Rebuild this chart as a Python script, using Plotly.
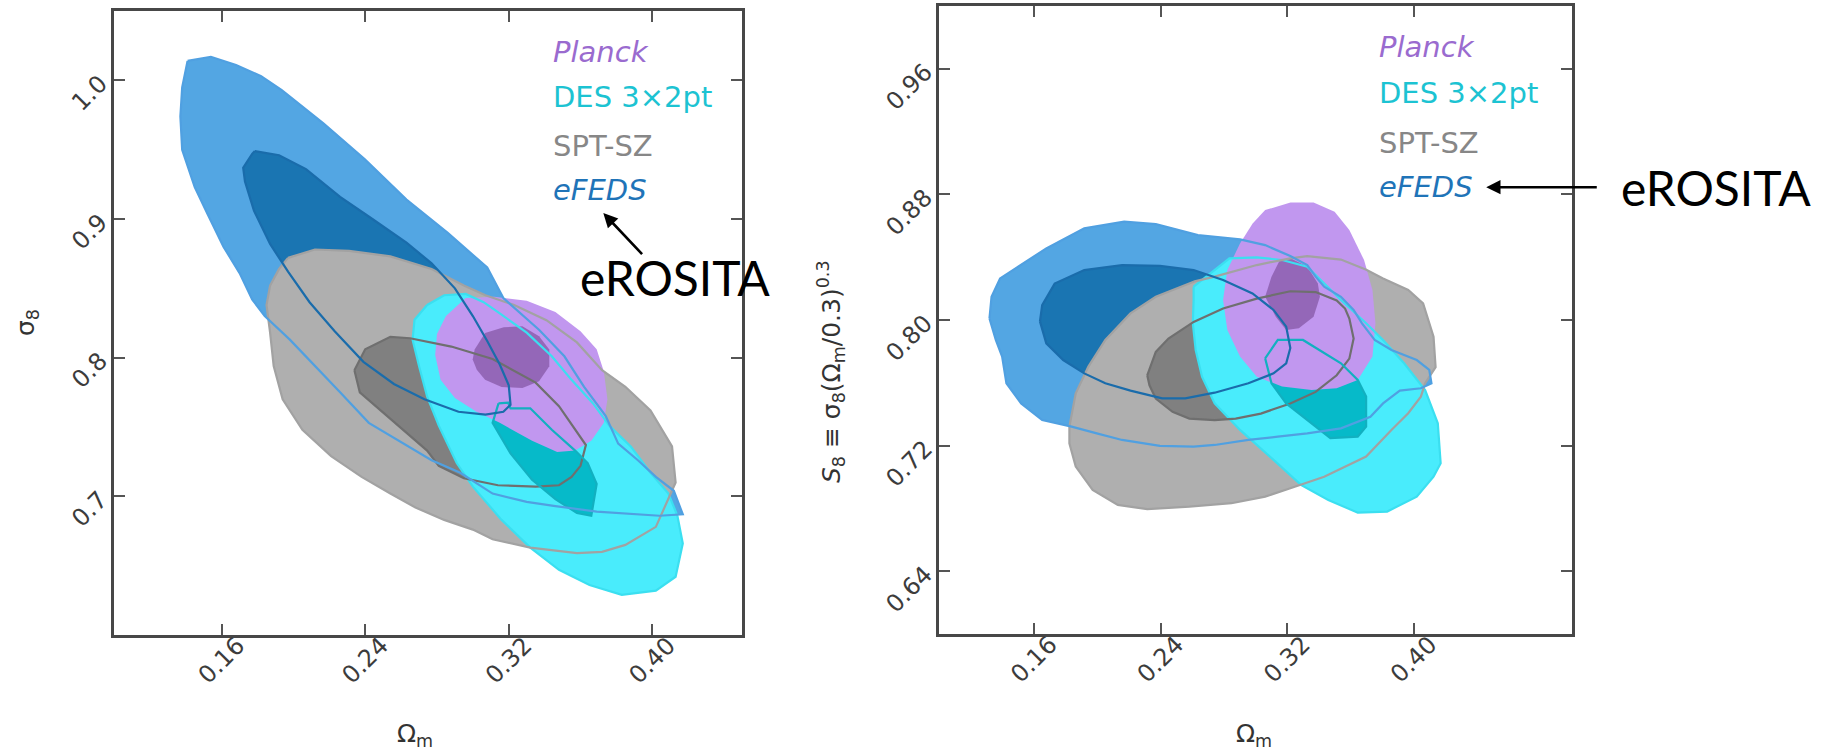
import plotly.graph_objects as go

# ---------------- tick definitions ----------------
X_TICKS = [0.16, 0.24, 0.32, 0.40]
X_TICK_TEXT = ["0.16", "0.24", "0.32", "0.40"]
L_Y_TICKS = [0.7, 0.8, 0.9, 1.0]
L_Y_TICK_TEXT = ["0.7", "0.8", "0.9", "1.0"]
R_Y_TICKS = [0.64, 0.72, 0.80, 0.88, 0.96]
R_Y_TICK_TEXT = ["0.64", "0.72", "0.80", "0.88", "0.96"]

# ---------------- left panel: (Omega_m, sigma_8) ----------------
L_EFEDS_OUT_X = [0.141, 0.154, 0.168, 0.182, 0.1935, 0.2167, 0.2398, 0.263, 0.286, 0.308, 0.317, 0.337, 0.351, 0.362,
                 0.374, 0.381, 0.392, 0.402, 0.412, 0.417, 0.404, 0.369, 0.346, 0.330, 0.311, 0.293, 0.277, 0.258,
                 0.242, 0.226, 0.212, 0.198, 0.184, 0.177, 0.170, 0.161, 0.152, 0.145, 0.138, 0.137, 0.138]
L_EFEDS_OUT_Y = [1.014, 1.017, 1.011, 1.003, 0.993, 0.969, 0.943, 0.914, 0.890, 0.865, 0.843, 0.820, 0.801, 0.779,
                 0.758, 0.738, 0.726, 0.714, 0.704, 0.687, 0.686, 0.689, 0.693, 0.696, 0.702, 0.717, 0.726, 0.741,
                 0.753, 0.775, 0.794, 0.813, 0.830, 0.842, 0.861, 0.880, 0.904, 0.923, 0.950, 0.974, 0.995]
L_EFEDS_IN_X = [0.1785, 0.192, 0.207, 0.226, 0.244, 0.263, 0.277, 0.290, 0.300, 0.308, 0.315, 0.320, 0.321, 0.317,
                0.307, 0.292, 0.273, 0.256, 0.239, 0.223, 0.209, 0.197, 0.187, 0.178, 0.173, 0.172, 0.177]
L_EFEDS_IN_Y = [0.949, 0.946, 0.936, 0.916, 0.900, 0.883, 0.868, 0.850, 0.830, 0.812, 0.795, 0.780, 0.766, 0.761,
                0.759, 0.761, 0.770, 0.781, 0.797, 0.819, 0.840, 0.862, 0.882, 0.906, 0.927, 0.937, 0.947]
L_SPT_OUT_X = [0.197, 0.212, 0.231, 0.254, 0.277, 0.295, 0.307, 0.323, 0.341, 0.358, 0.372, 0.385, 0.399, 0.411,
               0.413, 0.409, 0.402, 0.385, 0.372, 0.358, 0.332, 0.311, 0.300, 0.284, 0.268, 0.254, 0.238, 0.221,
               0.205, 0.194, 0.189, 0.187, 0.185, 0.187, 0.192]
L_SPT_OUT_Y = [0.872, 0.878, 0.877, 0.873, 0.864, 0.852, 0.845, 0.838, 0.827, 0.811, 0.791, 0.779, 0.762, 0.736,
               0.710, 0.698, 0.678, 0.665, 0.660, 0.659, 0.663, 0.669, 0.676, 0.683, 0.692, 0.702, 0.714, 0.729,
               0.748, 0.770, 0.794, 0.818, 0.838, 0.852, 0.864]
L_SPT_IN_X = [0.234, 0.240, 0.254, 0.265, 0.288, 0.311, 0.335, 0.348, 0.363, 0.360, 0.355, 0.348, 0.335, 0.314,
              0.295, 0.281, 0.2745, 0.261, 0.249, 0.237]
L_SPT_IN_Y = [0.791, 0.806, 0.815, 0.814, 0.808, 0.799, 0.782, 0.765, 0.737, 0.722, 0.714, 0.708, 0.707, 0.708,
              0.713, 0.722, 0.733, 0.748, 0.762, 0.775]
L_DES_OUT_X = [0.2745, 0.284, 0.296, 0.306, 0.316, 0.330, 0.344, 0.355, 0.367, 0.376, 0.388, 0.399, 0.409, 0.414,
               0.417, 0.413, 0.402, 0.383, 0.365, 0.348, 0.332, 0.316, 0.300, 0.291, 0.281, 0.2745, 0.270, 0.2664,
               0.2675]
L_DES_OUT_Y = [0.838, 0.845, 0.846, 0.840, 0.831, 0.818, 0.801, 0.784, 0.767, 0.751, 0.736, 0.717, 0.702, 0.686,
               0.666, 0.642, 0.632, 0.629, 0.636, 0.647, 0.663, 0.683, 0.707, 0.724, 0.751, 0.772, 0.794, 0.813,
               0.8274]
L_DES_IN_X = [0.3143, 0.3197, 0.321, 0.332, 0.344, 0.357, 0.364, 0.369, 0.366, 0.358, 0.346, 0.333, 0.321, 0.311]
L_DES_IN_Y = [0.767, 0.7675, 0.7635, 0.7635, 0.748, 0.733, 0.724, 0.709, 0.686, 0.688, 0.698, 0.712, 0.731, 0.753]
L_PLANCK_OUT_X = [0.296, 0.312, 0.330, 0.346, 0.360, 0.369, 0.373, 0.375, 0.373, 0.366, 0.357, 0.347, 0.333, 0.315,
                  0.302, 0.290, 0.282, 0.279, 0.280, 0.285]
L_PLANCK_OUT_Y = [0.843, 0.844, 0.841, 0.833, 0.819, 0.806, 0.790, 0.770, 0.753, 0.740, 0.733, 0.732, 0.740, 0.753,
                  0.761, 0.771, 0.784, 0.802, 0.817, 0.830]
L_PLANCK_IN_X = [0.301, 0.3068, 0.3172, 0.3276, 0.3369, 0.3426, 0.3426, 0.3369, 0.3276, 0.316, 0.3068, 0.3022, 0.2999]
L_PLANCK_IN_Y = [0.8058, 0.8178, 0.822, 0.8226, 0.8154, 0.8058, 0.7938, 0.783, 0.7781, 0.7788, 0.7841, 0.7913, 0.7986]

# ---------------- right panel: (Omega_m, S_8) ----------------
R_EFEDS_OUT_X = [0.1319, 0.1332, 0.1386, 0.1519, 0.1678, 0.1918, 0.217, 0.237, 0.2636, 0.2902, 0.3061, 0.322, 0.3327,
                 0.338, 0.3434, 0.354, 0.362, 0.3673, 0.3753, 0.3859, 0.4019, 0.4098, 0.4112, 0.4045, 0.3912, 0.3806,
                 0.3726, 0.354, 0.3327, 0.3141, 0.2955, 0.2742, 0.2609, 0.2396, 0.2157, 0.1997, 0.1838, 0.1652,
                 0.1519, 0.1426, 0.1399, 0.1359]
R_EFEDS_OUT_Y = [0.8010, 0.8148, 0.8265, 0.835, 0.8456, 0.8584, 0.8626, 0.8611, 0.8541, 0.8513, 0.8477, 0.8407, 0.835,
                 0.8276, 0.8212, 0.8148, 0.8064, 0.7979, 0.7873, 0.7809, 0.7745, 0.7682, 0.7597, 0.7565, 0.755, 0.7469,
                 0.7384, 0.731, 0.7278, 0.7257, 0.7236, 0.7204, 0.7194, 0.7198, 0.7236, 0.7278, 0.7321, 0.7363,
                 0.7469, 0.7597, 0.7767, 0.7873]
R_EFEDS_IN_X = [0.1638, 0.1652, 0.1731, 0.1918, 0.2157, 0.2396, 0.2609, 0.2795, 0.2981, 0.3114, 0.3194, 0.322, 0.3194,
                0.3114, 0.2955, 0.2742, 0.2556, 0.2410, 0.221, 0.2051, 0.1918, 0.1785, 0.1678]
R_EFEDS_IN_Y = [0.7991, 0.8095, 0.8232, 0.8318, 0.8349, 0.8345, 0.8318, 0.8255, 0.8169, 0.8064, 0.7958, 0.7822, 0.7724,
                0.766, 0.7597, 0.7537, 0.7501, 0.7501, 0.755, 0.7597, 0.766, 0.7745, 0.7851]
R_SPT_OUT_X = [0.2609, 0.2742, 0.3008, 0.322, 0.3327, 0.354, 0.370, 0.3806, 0.3965, 0.4059, 0.4125, 0.4138, 0.4072,
               0.4045, 0.3965, 0.3859, 0.3699, 0.3434, 0.322, 0.3061, 0.2848, 0.2582, 0.2316, 0.213, 0.1971, 0.1864,
               0.1824, 0.1824, 0.1864, 0.1944, 0.2051, 0.221, 0.237]
R_SPT_OUT_Y = [0.8244, 0.8276, 0.835, 0.8393, 0.8407, 0.8385, 0.832, 0.8265, 0.8191, 0.8106, 0.7894, 0.770, 0.7597,
               0.7512, 0.7406, 0.730, 0.713, 0.7002, 0.6928, 0.6875, 0.6833, 0.6811, 0.6795, 0.6822, 0.6918, 0.7066,
               0.7215, 0.7321, 0.7533, 0.7703, 0.7873, 0.8042, 0.8148]
R_SPT_IN_X = [0.2316, 0.237, 0.245, 0.2609, 0.2795, 0.3008, 0.322, 0.338, 0.3513, 0.3566, 0.3593, 0.362, 0.3593,
              0.3513, 0.338, 0.322, 0.3034, 0.2875, 0.2742, 0.2582, 0.2476, 0.237, 0.233]
R_SPT_IN_Y = [0.7648, 0.7797, 0.7882, 0.7988, 0.8073, 0.8136, 0.8183, 0.8178, 0.8125, 0.8073, 0.8009, 0.7882, 0.7754,
              0.7648, 0.7542, 0.7468, 0.7404, 0.7372, 0.7362, 0.7372, 0.7415, 0.75, 0.7584]
R_DES_OUT_X = [0.2609, 0.2742, 0.2835, 0.3008, 0.3168, 0.3327, 0.3434, 0.354, 0.3699, 0.3806, 0.3939, 0.4072, 0.4152,
               0.417, 0.4125, 0.4019, 0.3832, 0.3646, 0.346, 0.3287, 0.3114, 0.2902, 0.2742, 0.2662, 0.2622, 0.2604,
               0.2609]
R_DES_OUT_Y = [0.8212, 0.8318, 0.8393, 0.8399, 0.8382, 0.834, 0.8233, 0.8127, 0.7979, 0.7873, 0.7724, 0.7554, 0.7342,
               0.7087, 0.7002, 0.6875, 0.678, 0.6773, 0.6854, 0.695, 0.7109, 0.73, 0.7469, 0.7639, 0.7809, 0.7979,
               0.8127]
R_DES_IN_X = [0.3061, 0.3141, 0.33, 0.3407, 0.354, 0.3646, 0.3699, 0.3699, 0.3646, 0.3473, 0.3327, 0.3194, 0.3101]
R_DES_IN_Y = [0.7756, 0.7873, 0.7873, 0.7809, 0.7724, 0.7618, 0.7512, 0.7321, 0.7257, 0.7247, 0.7363, 0.7469, 0.7597]
R_PLANCK_OUT_X = [0.3061, 0.3221, 0.3367, 0.35, 0.3593, 0.3686, 0.3739, 0.3758, 0.3739, 0.3646, 0.3513, 0.3354,
                  0.3168, 0.3008, 0.2902, 0.2822, 0.2795, 0.2822, 0.2902, 0.2982]
R_PLANCK_OUT_Y = [0.87, 0.8749, 0.8749, 0.869, 0.8573, 0.8382, 0.8191, 0.7979, 0.7767, 0.7618, 0.7565, 0.7554,
                  0.7576, 0.7639, 0.7767, 0.7936, 0.8127, 0.8318, 0.8488, 0.8615]
R_PLANCK_IN_X = [0.3154, 0.322, 0.3327, 0.3394, 0.3407, 0.3367, 0.3274, 0.3194, 0.3128, 0.3061, 0.3101]
R_PLANCK_IN_Y = [0.8382, 0.8393, 0.834, 0.8233, 0.8148, 0.8021, 0.7947, 0.7936, 0.8021, 0.8148, 0.8276]

# ---------------- labels ----------------
LEGEND_LABELS = ["<i>Planck</i>", "DES 3×2pt", "SPT-SZ", "<i>eFEDS</i>"]
LEGEND_COLORS = ["#9a6bcf", "#1cc3d2", "#878787", "#1f74b8"]
L_LEGEND_POS = (0.3434, [1.0206, 0.9882, 0.9530, 0.9206])
R_LEGEND_POS = (0.3768, [0.9740, 0.9447, 0.9130, 0.8846])
CALLOUT = "eROSITA"

# ---------------- styles ----------------
C = dict(
    efeds_out="#53a6e3", efeds_in="#1a75b2", spt_out="#afafaf", spt_in="#808080",
    des_out="#49ecfc", des_in="#06bac9", planck_out="#c197ef", planck_in="#9467b8",
    efeds_out_line="#50a0e1", efeds_in_line="#1a6cab", spt_out_line="#a2a2a2", spt_in_line="#6f6f6f",
    des_out_line="#3bdff0", des_in_line="#12b0c0",
)

fig = go.Figure()


def fill(xs, ys, color, ax):
    fig.add_trace(go.Scatter(x=xs, y=ys, mode="lines", fill="toself", fillcolor=color,
                             line=dict(width=0, color=color), hoverinfo="skip", showlegend=False,
                             xaxis=ax[0], yaxis=ax[1]))


def outline(xs, ys, color, ax, w=2.2):
    fig.add_trace(go.Scatter(x=list(xs) + [xs[0]], y=list(ys) + [ys[0]], mode="lines",
                             line=dict(width=w, color=color), hoverinfo="skip", showlegend=False,
                             xaxis=ax[0], yaxis=ax[1]))


panels = [
    (("x", "y"), L_EFEDS_OUT_X, L_EFEDS_OUT_Y, L_EFEDS_IN_X, L_EFEDS_IN_Y, L_SPT_OUT_X, L_SPT_OUT_Y, L_SPT_IN_X,
     L_SPT_IN_Y, L_DES_OUT_X, L_DES_OUT_Y, L_DES_IN_X, L_DES_IN_Y, L_PLANCK_OUT_X, L_PLANCK_OUT_Y, L_PLANCK_IN_X,
     L_PLANCK_IN_Y),
    (("x2", "y2"), R_EFEDS_OUT_X, R_EFEDS_OUT_Y, R_EFEDS_IN_X, R_EFEDS_IN_Y, R_SPT_OUT_X, R_SPT_OUT_Y, R_SPT_IN_X,
     R_SPT_IN_Y, R_DES_OUT_X, R_DES_OUT_Y, R_DES_IN_X, R_DES_IN_Y, R_PLANCK_OUT_X, R_PLANCK_OUT_Y, R_PLANCK_IN_X,
     R_PLANCK_IN_Y),
]

for (ax, eox, eoy, eix, eiy, sox, soy, six, siy, dox, doy, dix, diy, pox, poy, pix, piy) in panels:
    fill(eox, eoy, C["efeds_out"], ax)
    fill(eix, eiy, C["efeds_in"], ax)
    fill(sox, soy, C["spt_out"], ax)
    fill(six, siy, C["spt_in"], ax)
    fill(dox, doy, C["des_out"], ax)
    fill(dix, diy, C["des_in"], ax)
    fill(pox, poy, C["planck_out"], ax)
    fill(pix, piy, C["planck_in"], ax)
    outline(dox, doy, C["des_out_line"], ax)
    outline(sox, soy, C["spt_out_line"], ax)
    outline(six, siy, C["spt_in_line"], ax)
    outline(dix, diy, C["des_in_line"], ax)
    outline(eox, eoy, C["efeds_out_line"], ax)
    outline(eix, eiy, C["efeds_in_line"], ax)

W, H = 1825, 752
TICKFONT = dict(family="DejaVu Sans", size=24, color="#3c3c3c")
axis_common = dict(showgrid=False, zeroline=False, showline=True, linewidth=3, linecolor="#474747",
                   mirror="allticks", ticks="inside", ticklen=11, tickwidth=1.6, tickcolor="#555555",
                   tickangle=-45, tickfont=TICKFONT)
x_extra = dict(ticklabelstandoff=-16, ticklabelshift=16)
y_extra = dict(ticklabelstandoff=6)

fig.update_layout(
    width=W, height=H, margin=dict(l=0, r=0, t=0, b=0),
    paper_bgcolor="white", plot_bgcolor="white", showlegend=False,
    xaxis=dict(domain=[114 / W, 742 / W], range=[0.10, 0.45], anchor="y", tickvals=X_TICKS,
               ticktext=X_TICK_TEXT, **axis_common, **x_extra),
    yaxis=dict(domain=[1 - 635 / H, 1 - 11 / H], range=[0.60, 1.05], anchor="x", tickvals=L_Y_TICKS,
               ticktext=L_Y_TICK_TEXT, **axis_common, **y_extra),
    xaxis2=dict(domain=[939 / W, 1572 / W], range=[0.10, 0.50], anchor="y2", tickvals=X_TICKS,
                ticktext=X_TICK_TEXT, **axis_common, **x_extra),
    yaxis2=dict(domain=[1 - 634 / H, 1 - 6 / H], range=[0.60, 1.00], anchor="x2", tickvals=R_Y_TICKS,
                ticktext=R_Y_TICK_TEXT, **axis_common, **y_extra),
)

ann = []
LEGFONT = "DejaVu Sans"
for (xpos, ys), xr, yr in [(L_LEGEND_POS, "x", "y"), (R_LEGEND_POS, "x2", "y2")]:
    for lab, col, yv in zip(LEGEND_LABELS, LEGEND_COLORS, ys):
        ann.append(dict(x=xpos, y=yv, xref=xr, yref=yr, text=lab, showarrow=False, xanchor="left",
                        yanchor="middle", font=dict(family=LEGFONT, size=29, color=col)))

# eROSITA callouts
ann.append(dict(x=0.3727, y=0.9043, xref="x", yref="y", ax=0.3951, ay=0.8736, axref="x", ayref="y",
                text="", showarrow=True, arrowhead=2, arrowsize=1.1, arrowwidth=2.6, arrowcolor="black"))
ann.append(dict(x=0.3585, y=0.8575, xref="x", yref="y", text=CALLOUT, showarrow=False, xanchor="left",
                yanchor="middle", font=dict(family="Lato", size=48, color="black")))
ann.append(dict(x=0.4458, y=0.8846, xref="x2", yref="y2", ax=0.5166, ay=0.8846, axref="x2", ayref="y2",
                text="", showarrow=True, arrowhead=2, arrowsize=1.1, arrowwidth=2.6, arrowcolor="black"))
ann.append(dict(x=1619 / W, y=0.8846, xref="paper", yref="y2", text=CALLOUT, showarrow=False, xanchor="left",
                yanchor="middle", font=dict(family="Lato", size=48, color="black")))

# axis titles
TITLEFONT = dict(family="DejaVu Sans", size=25, color="#333333")
ann.append(dict(x=415 / W, y=1 - 735 / H, xref="paper", yref="paper", text="Ω<sub>m</sub>", showarrow=False,
                xanchor="center", yanchor="middle", font=TITLEFONT))
ann.append(dict(x=1254 / W, y=1 - 735 / H, xref="paper", yref="paper", text="Ω<sub>m</sub>", showarrow=False,
                xanchor="center", yanchor="middle", font=TITLEFONT))
ann.append(dict(x=27 / W, y=1 - 323 / H, xref="paper", yref="paper", text="σ<sub>8</sub>", showarrow=False,
                xanchor="center", yanchor="middle", textangle=-90, font=TITLEFONT))
ann.append(dict(x=831 / W, y=1 - 372 / H, xref="paper", yref="paper",
                text="<i>S</i><sub>8</sub> ≡ σ<sub>8</sub>(Ω<sub>m</sub>/0.3)<sup>0.3</sup>", showarrow=False,
                xanchor="center", yanchor="middle", textangle=-90, font=TITLEFONT))

fig.update_layout(annotations=ann)
fig.write_html("out.html")
